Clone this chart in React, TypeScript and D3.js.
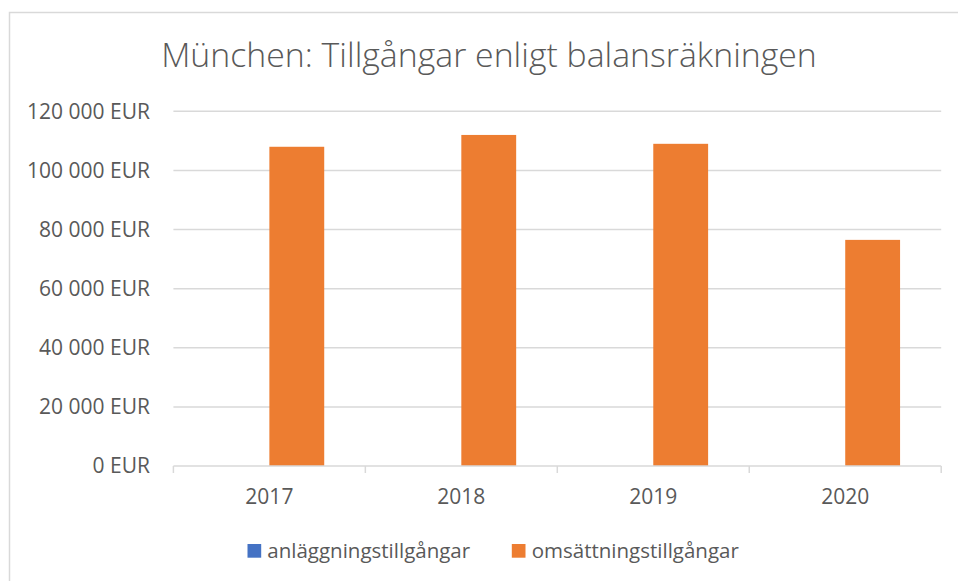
import React from "react";
import * as d3 from "d3";

const title = "München: Tillgångar enligt balansräkningen";
const years = ["2017", "2018", "2019", "2020"];
const seriesNames = ["anläggningstillgångar", "omsättningstillgångar"];
const anlaggning = [0, 0, 0, 0];
const omsattning = [108000, 112000, 109000, 76500];
const yTicks = [0, 20000, 40000, 60000, 80000, 100000, 120000];
const colors = ["#4472C4", "#ED7D31"];

const W = 958;
const H = 581;
const FONT = "'Open Sans', 'Noto Sans', sans-serif";
const TEXT = "#595959";
const GRID = "#d9d9d9";

const locale = d3.formatLocale({ decimal: ",", thousands: "\u00a0", grouping: [3], currency: ["", " EUR"] });
const fmt = (v: number) => locale.format(",.0f")(v) + " EUR";

export default function App() {
  const left = 173.4;
  const right = 941.2;
  const top = 111.3;
  const bottom = 466;

  const x0 = d3.scaleBand<string>().domain(years).range([left, right]).padding(0);
  const bw = x0.bandwidth();
  const groupW = (bw * 2) / 3.5;
  const x1 = d3
    .scaleBand<string>()
    .domain(seriesNames)
    .range([(bw - groupW) / 2, (bw + groupW) / 2])
    .padding(0);
  const y = d3.scaleLinear().domain([0, 120000]).range([bottom, top]);

  const series = [anlaggning, omsattning];

  const legendItems = [
    { name: seriesNames[0], color: colors[0], sx: 247.5, tx: 267.3 },
    { name: seriesNames[1], color: colors[1], sx: 511.8, tx: 531.7 },
  ];

  return (
    <svg
      width={W}
      height={H}
      style={{ position: "absolute", left: 0, top: 0, background: "#fff" }}
      fontFamily={FONT}
    >
      <rect x={0} y={0} width={W} height={H} fill="#fff" />
      <rect x={9.5} y={12.5} width={W + 20} height={H + 20} fill="none" stroke={GRID} strokeWidth={1.5} />

      <text x={489} y={66.7} textAnchor="middle" fontSize={33.8} fontWeight={300} fill={TEXT}>
        {title}
      </text>

      {yTicks.map((t) => (
        <g key={t}>
          {t > 0 && (
            <line x1={left} x2={right} y1={y(t)} y2={y(t)} stroke={GRID} strokeWidth={1.5} />
          )}
          <text x={150} y={y(t)} dy="0.35em" textAnchor="end" fontSize={21} fill={TEXT}>
            {fmt(t)}
          </text>
        </g>
      ))}

      {series.map((vals, si) =>
        years.map((yr, i) => {
          const v = vals[i];
          const bx = (x0(yr) as number) + (x1(seriesNames[si]) as number);
          return (
            <rect
              key={`${si}-${yr}`}
              x={bx}
              y={y(v)}
              width={x1.bandwidth()}
              height={bottom - y(v)}
              fill={colors[si]}
            />
          );
        })
      )}

      <line x1={left} x2={right} y1={bottom} y2={bottom} stroke={GRID} strokeWidth={1.5} />
      {[...years.map((yr) => x0(yr) as number), right].map((tx, i) => (
        <line key={i} x1={tx} x2={tx} y1={bottom} y2={bottom + 7} stroke={GRID} strokeWidth={1.5} />
      ))}
      {years.map((yr) => (
        <text
          key={yr}
          x={(x0(yr) as number) + bw / 2}
          y={504.3}
          textAnchor="middle"
          fontSize={21}
          fill={TEXT}
        >
          {yr}
        </text>
      ))}

      {legendItems.map((it) => (
        <g key={it.name}>
          <rect x={it.sx} y={544} width={13.7} height={13.7} fill={it.color} />
          <text x={it.tx} y={557.5} fontSize={20.5} fill={TEXT}>
            {it.name}
          </text>
        </g>
      ))}
    </svg>
  );
}
